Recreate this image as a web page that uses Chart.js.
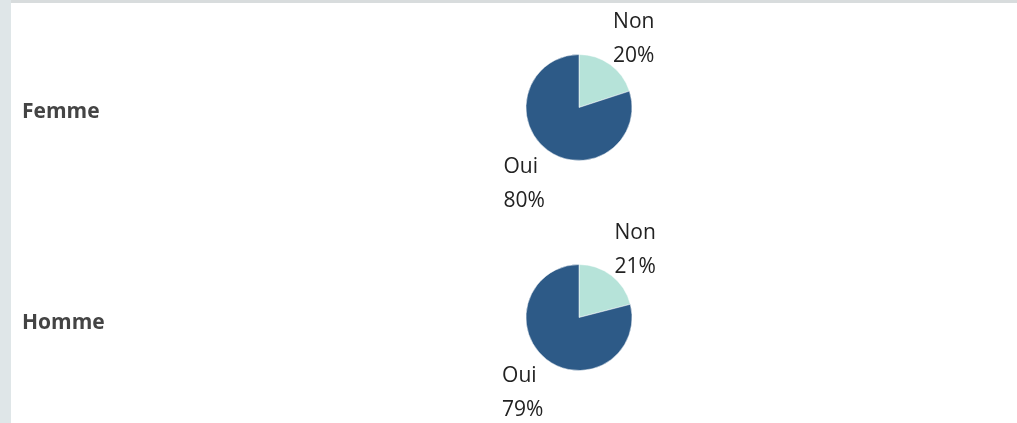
<!DOCTYPE html>
<html>
<head>
<meta charset="utf-8">
<script src="https://cdn.jsdelivr.net/npm/chart.js@4"></script>
<style>
  html, body { margin: 0; padding: 0; background: #fff; }
  body { width: 1017px; height: 423px; position: relative; overflow: hidden; font-family: 'Open Sans', 'Noto Sans', sans-serif; }
  .side { position: absolute; left: 0; top: 0; width: 11px; height: 423px; background: #dfe6e8; }
  .topline { position: absolute; left: 11px; top: 0; width: 1006px; height: 3px; background: #d8dcdd; }
  .row { position: absolute; left: 11px; width: 1006px; }
  .row canvas { position: absolute; left: 0; top: 0; }
  .rowlabel { position: absolute; left: 22px; font-weight: bold; font-size: 21px; color: #444; transform: translateY(-50%); }
</style>
</head>
<body>
<div class="side"></div>
<div class="topline"></div>
<div class="row" style="top:3px;height:209px"><canvas id="pie0"></canvas></div>
<div class="row" style="top:212px;height:211px"><canvas id="pie1"></canvas></div>
<div class="rowlabel" style="top:110px">Femme</div>
<div class="rowlabel" style="top:321px">Homme</div>
<script>
// données
const genres = ['Femme', 'Homme'];
const reponses = ['Non', 'Oui'];
const pctNon = [20, 21];
const pctOui = [80, 79];
const couleurs = ['#b6e3d9', '#2d5a87'];

const labelFont = "21px 'Open Sans', 'Noto Sans', sans-serif";

// étiquettes "Non / 20%" à l'extérieur de chaque part
const sliceLabels = {
  id: 'sliceLabels',
  afterDatasetsDraw(chart) {
    const ctx = chart.ctx;
    const meta = chart.getDatasetMeta(0);
    const values = chart.data.datasets[0].data;
    ctx.save();
    ctx.font = labelFont;
    ctx.fillStyle = '#222';
    ctx.textAlign = 'left';
    ctx.textBaseline = 'middle';
    const lineH = 34, capH = 18;
    meta.data.forEach((arc, i) => {
      const p = arc.getProps(['x', 'y', 'startAngle', 'endAngle', 'outerRadius'], true);
      const mid = (p.startAngle + p.endAngle) / 2;
      const dx = Math.cos(mid), dy = Math.sin(mid);
      const d = p.outerRadius + 5;
      const ax = p.x + dx * d, ay = p.y + dy * d + 4;
      const lines = [chart.data.labels[i], values[i] + '%'];
      const w = Math.max(...lines.map(t => ctx.measureText(t).width));
      const h = (lines.length - 1) * lineH + capH;
      const left = dx >= 0 ? ax : ax - w;
      const top = dy < 0 ? ay - h : ay;
      lines.forEach((t, k) => {
        ctx.fillText(t, left, top + capH / 2 + k * lineH);
      });
    });
    ctx.restore();
  }
};

genres.forEach((g, idx) => {
  const canvas = document.getElementById('pie' + idx);
  const row = canvas.parentElement;
  canvas.width = row.clientWidth;
  canvas.height = row.clientHeight;
  canvas.style.width = row.clientWidth + 'px';
  canvas.style.height = row.clientHeight + 'px';
  new Chart(canvas.getContext('2d'), {
    type: 'pie',
    data: {
      labels: reponses,
      datasets: [{
        data: [pctNon[idx], pctOui[idx]],
        backgroundColor: couleurs,
        borderColor: '#fff',
        borderWidth: 0.5,
        radius: 53
      }]
    },
    options: {
      responsive: false,
      animation: false,
      layout: { padding: { left: 130 } },
      plugins: {
        legend: { display: false },
        tooltip: { enabled: false }
      }
    },
    plugins: [sliceLabels]
  });
});
</script>
</body>
</html>
